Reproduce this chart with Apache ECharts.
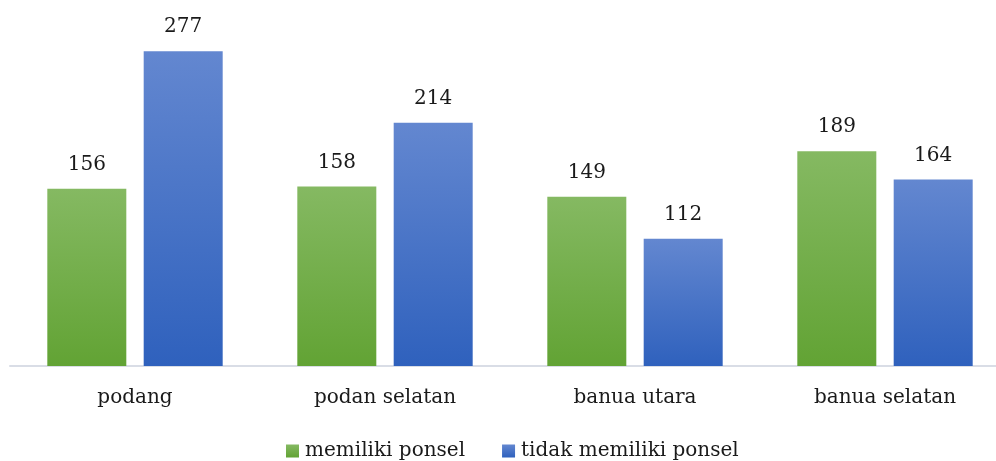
<!DOCTYPE html>
<html><head><meta charset="utf-8">
<script src="https://cdn.jsdelivr.net/npm/echarts@6/dist/echarts.min.js"></script>
<style>html,body{margin:0;padding:0;background:#fff}#c{width:996px;height:461px}</style>
</head><body><div id="c"></div>
<script>
const categories = ['podang', 'podan selatan', 'banua utara', 'banua selatan'];
const seriesNames = ['memiliki ponsel', 'tidak memiliki ponsel'];
const memiliki = [156, 158, 149, 189];
const tidakMemiliki = [277, 214, 112, 164];

const FONT = 'DejaVu Serif';
const grad = (top, bottom) => new echarts.graphic.LinearGradient(0, 0, 0, 1, [
  {offset: 0, color: top}, {offset: 1, color: bottom}
]);
const chart = echarts.init(document.getElementById('c'));
chart.setOption({
  animation: false,
  grid: {left: 10, width: 1000, top: 25, height: 341, containLabel: false, outerBoundsMode: 'none'},
  legend: {
    left: 281, top: 436,
    itemWidth: 13, itemHeight: 13, itemGap: 37,
    icon: 'rect',
    textStyle: {fontFamily: FONT, fontSize: 20, color: '#1a1a1a', padding: [0, 0, 0, 1]},
    data: seriesNames
  },
  xAxis: {
    type: 'category', data: categories,
    axisLine: {lineStyle: {color: '#d9dde6', width: 2}},
    axisTick: {show: false},
    axisLabel: {fontFamily: FONT, fontSize: 20, color: '#1a1a1a', margin: 22}
  },
  yAxis: {type: 'value', min: 0, max: 300, show: false, splitLine: {show: false}},
  series: [
    {
      name: seriesNames[0], type: 'bar', data: memiliki,
      barWidth: 79, barGap: '22%',
      itemStyle: {color: grad('#85b962', '#62a334')},
      label: {show: true, position: 'top', distance: 14, fontFamily: FONT, fontSize: 20, color: '#1a1a1a'}
    },
    {
      name: seriesNames[1], type: 'bar', data: tidakMemiliki,
      barWidth: 79,
      itemStyle: {color: grad('#6387d0', '#2f61bd')},
      label: {show: true, position: 'top', distance: 14, fontFamily: FONT, fontSize: 20, color: '#1a1a1a'}
    }
  ]
});
</script></body></html>
